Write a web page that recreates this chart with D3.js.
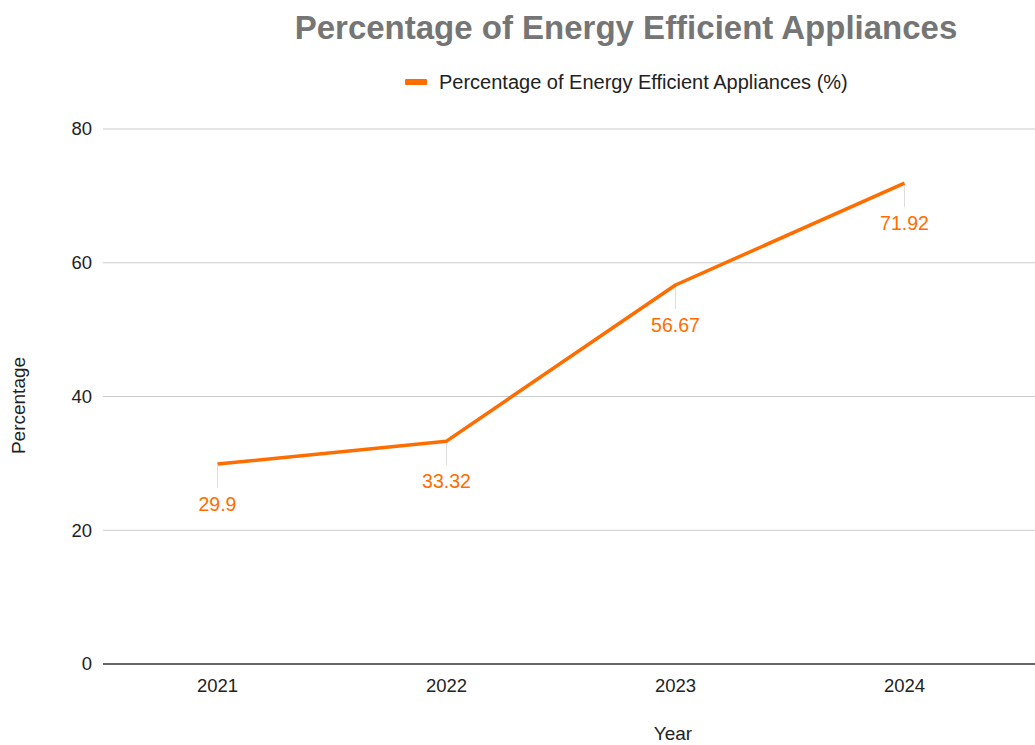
<!DOCTYPE html>
<html>
<head>
  <meta charset="utf-8" />
  <title>Percentage of Energy Efficient Appliances</title>
  <script src="https://d3js.org/d3.v7.min.js"></script>
  <style>
    body { margin: 0; background: #fff; }
    text { font-family: "Liberation Sans", Arial, sans-serif; }
  </style>
</head>
<body>
  <div id="chart"></div>
  <script>
    // data
    var years = ["2021", "2022", "2023", "2024"];
    var values = [29.9, 33.32, 56.67, 71.92];
    var yTicks = [0, 20, 40, 60, 80];
    var seriesName = "Percentage of Energy Efficient Appliances (%)";

    var width = 1035, height = 745;
    var margin = { top: 129, right: 16, bottom: 81, left: 103 };
    var lineColor = "#ff6d00";

    var svg = d3.select("#chart").append("svg")
      .attr("width", width)
      .attr("height", height);

    var x = d3.scalePoint()
      .domain(years)
      .range([margin.left, width - margin.right])
      .padding(0.5);

    var y = d3.scaleLinear()
      .domain([0, 80])
      .range([height - margin.bottom, margin.top]);

    // gridlines
    svg.append("g")
      .selectAll("line")
      .data(yTicks.filter(d => d !== 0))
      .enter().append("line")
      .attr("x1", margin.left)
      .attr("x2", width)
      .attr("y1", d => y(d))
      .attr("y2", d => y(d))
      .attr("stroke", "#cccccc")
      .attr("stroke-width", 1);

    // baseline
    svg.append("line")
      .attr("x1", margin.left)
      .attr("x2", width)
      .attr("y1", y(0))
      .attr("y2", y(0))
      .attr("stroke", "#333333")
      .attr("stroke-width", 1.5);

    // y tick labels
    svg.append("g")
      .selectAll("text")
      .data(yTicks)
      .enter().append("text")
      .attr("x", margin.left - 11)
      .attr("y", d => y(d))
      .attr("dy", "0.35em")
      .attr("text-anchor", "end")
      .attr("font-size", 18.5)
      .attr("fill", "#222")
      .text(d => d);

    // x tick labels
    svg.append("g")
      .selectAll("text")
      .data(years)
      .enter().append("text")
      .attr("x", d => x(d))
      .attr("y", y(0) + 28)
      .attr("text-anchor", "middle")
      .attr("font-size", 18.5)
      .attr("fill", "#222")
      .text(d => d);

    // axis titles
    svg.append("text")
      .attr("x", 673)
      .attr("y", 740)
      .attr("text-anchor", "middle")
      .attr("font-size", 19)
      .attr("fill", "#222")
      .text("Year");

    svg.append("text")
      .attr("transform", "translate(25," + (y(40) + 9) + ") rotate(-90)")
      .attr("text-anchor", "middle")
      .attr("font-size", 19)
      .attr("fill", "#222")
      .text("Percentage");

    // title
    svg.append("text")
      .attr("x", 626)
      .attr("y", 39)
      .attr("text-anchor", "middle")
      .attr("font-size", 33)
      .attr("font-weight", "bold")
      .attr("fill", "#757575")
      .text("Percentage of Energy Efficient Appliances");

    // legend
    var legend = svg.append("g");
    legend.append("rect")
      .attr("x", 405)
      .attr("y", 79)
      .attr("width", 22)
      .attr("height", 6)
      .attr("rx", 1)
      .attr("fill", lineColor);
    legend.append("text")
      .attr("x", 439)
      .attr("y", 82)
      .attr("dy", "0.35em")
      .attr("font-size", 20)
      .attr("fill", "#222")
      .text(seriesName);

    var pts = years.map((d, i) => ({ year: d, value: values[i] }));

    // leader lines
    svg.append("g")
      .selectAll("line")
      .data(pts)
      .enter().append("line")
      .attr("x1", d => x(d.year))
      .attr("x2", d => x(d.year))
      .attr("y1", d => y(d.value) + 2)
      .attr("y2", d => y(d.value) + 24)
      .attr("stroke", "#dddddd")
      .attr("stroke-width", 1);

    // line
    var line = d3.line()
      .x(d => x(d.year))
      .y(d => y(d.value));

    svg.append("path")
      .datum(pts)
      .attr("d", line)
      .attr("fill", "none")
      .attr("stroke", lineColor)
      .attr("stroke-width", 3.5)
      .attr("stroke-linejoin", "round");

    // data labels
    svg.append("g")
      .selectAll("text")
      .data(pts)
      .enter().append("text")
      .attr("x", d => x(d.year))
      .attr("y", d => y(d.value) + 47)
      .attr("text-anchor", "middle")
      .attr("font-family", "Roboto, sans-serif")
      .attr("font-size", 19.5)
      .attr("fill", lineColor)
      .text(d => d.value);
  </script>
</body>
</html>
